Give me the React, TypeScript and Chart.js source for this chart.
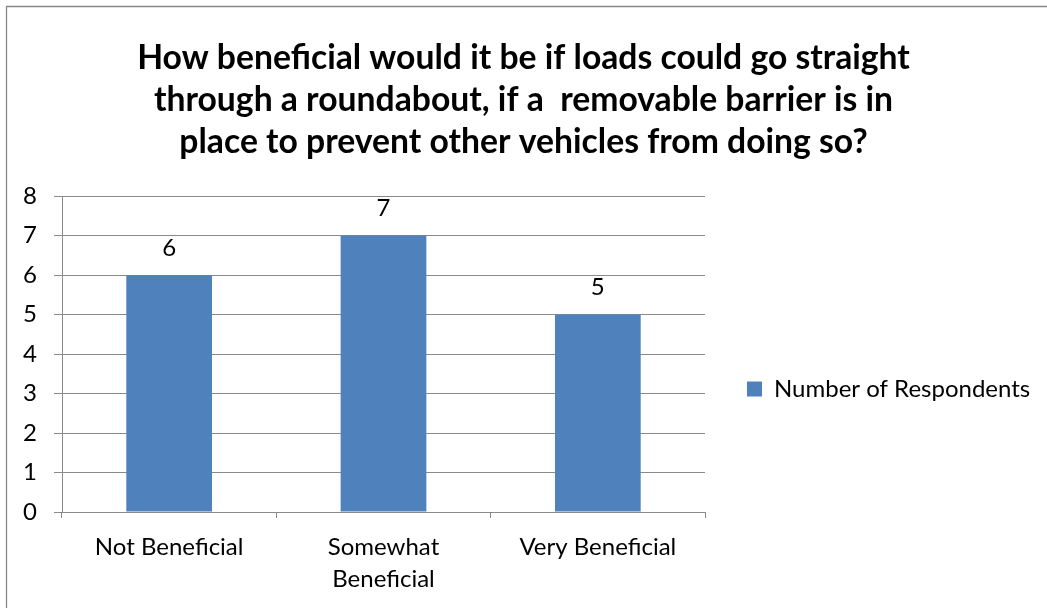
import React, { useEffect, useRef } from 'react';
import { Chart, registerables } from 'chart.js';

Chart.register(...registerables);

// ---- data ----
const titleLines = [
  'How beneficial would it be if loads could go straight',
  'through a roundabout, if a  removable barrier is in',
  'place to prevent other vehicles from doing so?',
];
const categories: (string | string[])[] = ['Not Beneficial', ['Somewhat', 'Beneficial'], 'Very Beneficial'];
const seriesName = 'Number of Respondents';
const respondents = [6, 7, 5];
const yTicksMin = 0;
const yTicksMax = 8;
const yTicksStep = 1;

// ---- styles ----
const W = 1047;
const H = 608;
const FONT = 'Lato, "Noto Sans", sans-serif';
const TICK_SIZE = 24;
const TITLE_SIZE = 33.7;
const GRID = '#8a8a8a';
const BAR = '#4F81BD';
const LEFT_PAD = 8;
const PLOT_LEFT = 62;
const PLOT_RIGHT = 705;
const PLOT_BOTTOM = 512;
const LEGEND_PAD = 42;
const LEGEND_BOX = 15;
const LEGEND_WIDTH = 230;

const framePlugin = {
  id: 'frame',
  beforeDraw(chart: any) {
    const ctx = chart.ctx;
    ctx.save();
    ctx.fillStyle = '#ffffff';
    ctx.fillRect(0, 0, W, H);
    ctx.strokeStyle = '#878787';
    ctx.lineWidth = 1.3;
    ctx.beginPath();
    ctx.moveTo(6.5, H);
    ctx.lineTo(6.5, 6.5);
    ctx.lineTo(W, 6.5);
    ctx.stroke();
    ctx.restore();
  },
};

// Title should be centred across the whole chart and the legend text must not be clipped
const boxSpanPlugin = {
  id: 'boxSpan',
  afterLayout(chart: any) {
    const t = chart.titleBlock;
    if (t) {
      t.right = W - LEFT_PAD;
      t.width = t.right - t.left;
    }
    const lg = chart.legend;
    if (lg) {
      lg.right = W;
      lg.width = lg.right - lg.left;
    }
  },
};

const valueLabelPlugin = {
  id: 'valueLabels',
  afterDatasetsDraw(chart: any) {
    const ctx = chart.ctx;
    const meta = chart.getDatasetMeta(0);
    const data = chart.data.datasets[0].data;
    ctx.save();
    ctx.font = `${TICK_SIZE}px ${FONT}`;
    ctx.fillStyle = '#000';
    ctx.textAlign = 'center';
    ctx.textBaseline = 'middle';
    meta.data.forEach((bar: any, i: number) => {
      ctx.fillText(String(data[i]), bar.x, bar.y - 27);
    });
    ctx.restore();
  },
};

export default function App() {
  const ref = useRef<HTMLCanvasElement | null>(null);

  useEffect(() => {
    const canvas = ref.current!;
    const rightPad = W - PLOT_RIGHT - LEGEND_WIDTH;

    const chart = new Chart(canvas, {
      type: 'bar',
      data: {
        labels: categories as any,
        datasets: [
          {
            label: seriesName,
            data: respondents,
            backgroundColor: BAR,
            borderWidth: 0,
            barPercentage: 0.4,
            categoryPercentage: 1.0,
          },
        ],
      },
      options: {
        responsive: false,
        animation: false,
        layout: { padding: { left: LEFT_PAD, right: rightPad, top: 0, bottom: 0 } },
        plugins: {
          title: {
            display: true,
            text: titleLines,
            color: '#000',
            font: { family: FONT, size: TITLE_SIZE, weight: 'bold', lineHeight: 42 / TITLE_SIZE },
            padding: { top: 37, bottom: 33 },
          },
          legend: {
            display: true,
            position: 'right',
            align: 'center',
            fullSize: false,
            maxWidth: LEGEND_WIDTH,
            title: {
              display: true,
              text: ' ',
              font: { family: FONT, size: 10, lineHeight: 1 },
              padding: { top: 0, bottom: 60 },
            },
            labels: {
              boxWidth: LEGEND_BOX,
              boxHeight: LEGEND_BOX,
              padding: LEGEND_PAD,
              color: '#000',
              font: { family: FONT, size: TICK_SIZE },
            },
          },
          tooltip: { enabled: false },
        },
        scales: {
          x: {
            grid: {
              display: true,
              drawOnChartArea: false,
              drawTicks: true,
              tickLength: 6,
              color: GRID,
              offset: true,
            },
            border: { display: true, color: GRID, width: 1 },
            ticks: {
              color: '#000',
              font: { family: FONT, size: TICK_SIZE, lineHeight: 32 / TICK_SIZE },
              padding: 13,
              maxRotation: 0,
              autoSkip: false,
            },
            afterFit: (s: any) => {
              s.height = H - PLOT_BOTTOM;
            },
          },
          y: {
            min: yTicksMin,
            max: yTicksMax,
            ticks: {
              stepSize: yTicksStep,
              color: '#000',
              font: { family: FONT, size: TICK_SIZE },
              padding: 17,
            },
            grid: { color: GRID, tickLength: 8, lineWidth: 1 },
            border: { display: true, color: GRID, width: 1 },
            afterFit: (s: any) => {
              s.width = PLOT_LEFT - LEFT_PAD;
            },
          },
        },
      },
      plugins: [framePlugin, boxSpanPlugin, valueLabelPlugin],
    } as any);

    return () => chart.destroy();
  }, []);

  return (
    <div style={{ position: 'absolute', left: 0, top: 0, width: W, height: H }}>
      <canvas ref={ref} width={W} height={H} style={{ width: W, height: H, display: 'block' }} />
    </div>
  );
}
